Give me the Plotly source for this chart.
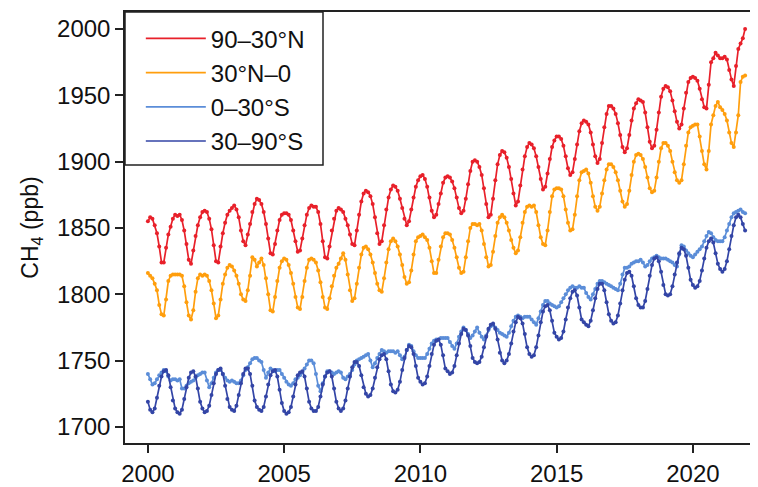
import plotly.graph_objects as go

start_year = 2000

nh_90_30 = [
    1855,1858,1857,1852,1846,1836,1824,1824,1835,1845,1851,1857,
    1860,1859,1860,1856,1848,1838,1826,1823,1833,1844,1852,1858,
    1862,1863,1862,1857,1849,1837,1825,1824,1836,1846,1854,1860,
    1863,1865,1867,1864,1858,1848,1840,1837,1845,1853,1862,1868,
    1872,1871,1868,1862,1853,1842,1831,1830,1838,1848,1856,1860,
    1861,1861,1860,1856,1848,1840,1832,1833,1842,1852,1860,1865,
    1867,1866,1866,1862,1853,1840,1828,1827,1836,1848,1857,1863,
    1865,1864,1862,1857,1852,1845,1838,1837,1848,1860,1870,1876,
    1878,1877,1874,1868,1858,1846,1838,1840,1852,1864,1873,1879,
    1882,1881,1878,1872,1865,1857,1852,1855,1864,1873,1881,1886,
    1889,1890,1887,1881,1873,1863,1858,1860,1868,1876,1884,1888,
    1889,1888,1885,1880,1873,1865,1861,1863,1872,1883,1893,1900,
    1901,1900,1896,1890,1880,1868,1858,1860,1872,1886,1898,1905,
    1908,1907,1903,1896,1887,1876,1867,1870,1882,1894,1904,1911,
    1914,1913,1910,1904,1896,1887,1879,1881,1891,1902,1911,1916,
    1919,1919,1917,1912,1904,1895,1890,1892,1902,1913,1923,1929,
    1931,1930,1928,1922,1913,1904,1899,1902,1914,1926,1936,1942,
    1942,1940,1936,1929,1920,1911,1907,1910,1920,1931,1940,1944,
    1947,1946,1945,1937,1926,1915,1910,1912,1924,1937,1949,1955,
    1957,1956,1953,1946,1938,1930,1925,1928,1940,1952,1960,1963,
    1964,1963,1961,1955,1947,1941,1940,1958,1975,1978,1982,1980,
    1978,1978,1979,1977,1969,1962,1957,1972,1985,1989,1993,2000,
]

nh_30_0 = [
    1816,1814,1812,1808,1803,1792,1785,1784,1796,1810,1814,1815,
    1815,1815,1815,1814,1806,1794,1784,1781,1788,1802,1812,1815,
    1814,1815,1814,1810,1803,1793,1782,1784,1796,1808,1815,1820,
    1822,1821,1818,1814,1808,1800,1796,1795,1803,1814,1828,1826,
    1821,1824,1827,1822,1812,1800,1788,1787,1798,1810,1820,1825,
    1827,1826,1822,1816,1808,1798,1790,1789,1798,1810,1820,1826,
    1827,1826,1824,1818,1809,1798,1790,1789,1797,1806,1814,1820,
    1823,1827,1831,1826,1815,1803,1795,1797,1808,1820,1830,1835,
    1836,1834,1830,1824,1816,1808,1803,1802,1812,1824,1834,1840,
    1842,1840,1836,1830,1822,1813,1808,1809,1818,1830,1840,1843,
    1844,1845,1843,1841,1835,1825,1816,1816,1826,1836,1843,1846,
    1846,1845,1841,1835,1828,1820,1816,1817,1828,1840,1850,1853,
    1853,1852,1853,1848,1838,1828,1821,1822,1832,1844,1854,1858,
    1860,1858,1854,1848,1841,1835,1831,1833,1843,1854,1862,1866,
    1867,1866,1867,1862,1852,1843,1838,1837,1848,1862,1874,1879,
    1880,1880,1879,1874,1864,1854,1848,1849,1860,1874,1886,1892,
    1893,1894,1891,1884,1874,1866,1863,1866,1876,1886,1894,1898,
    1898,1896,1892,1886,1878,1870,1866,1868,1878,1890,1900,1905,
    1906,1905,1902,1896,1888,1880,1877,1878,1888,1900,1910,1914,
    1914,1912,1908,1900,1892,1886,1884,1886,1898,1912,1922,1926,
    1927,1928,1928,1919,1908,1898,1894,1908,1928,1935,1942,1945,
    1941,1939,1936,1931,1922,1914,1911,1922,1935,1960,1964,1965,
]

sh_0_30 = [
    1740,1736,1732,1733,1736,1739,1741,1743,1742,1738,1735,1736,
    1736,1735,1736,1729,1729,1731,1733,1734,1735,1737,1739,1740,
    1741,1741,1735,1730,1733,1737,1741,1743,1743,1740,1737,1735,
    1734,1735,1734,1733,1733,1735,1739,1743,1745,1748,1751,1752,
    1752,1750,1749,1743,1737,1741,1744,1743,1742,1743,1743,1740,
    1737,1734,1732,1731,1733,1736,1737,1739,1741,1744,1747,1750,
    1750,1748,1740,1731,1727,1733,1738,1742,1742,1741,1740,1741,
    1742,1741,1737,1736,1738,1740,1743,1747,1750,1751,1752,1753,
    1754,1755,1750,1745,1748,1752,1755,1758,1757,1756,1757,1757,
    1757,1756,1757,1754,1751,1753,1758,1762,1761,1757,1754,1752,
    1752,1752,1752,1755,1759,1763,1765,1766,1766,1767,1767,1767,
    1767,1764,1761,1759,1763,1768,1772,1775,1773,1770,1767,1769,
    1772,1775,1771,1768,1766,1769,1773,1776,1777,1775,1773,1771,
    1770,1769,1768,1771,1776,1780,1783,1784,1783,1782,1783,1783,
    1783,1781,1779,1777,1782,1787,1792,1795,1795,1793,1792,1791,
    1790,1791,1794,1797,1800,1803,1805,1806,1805,1805,1806,1805,
    1805,1801,1798,1796,1800,1804,1808,1810,1810,1809,1808,1807,
    1806,1805,1804,1803,1808,1815,1820,1820,1821,1823,1824,1825,
    1825,1826,1824,1821,1822,1825,1827,1828,1829,1828,1827,1827,
    1827,1826,1825,1824,1822,1821,1830,1837,1836,1833,1831,1829,
    1828,1830,1832,1834,1836,1840,1844,1847,1846,1843,1841,1840,
    1840,1840,1843,1848,1853,1858,1861,1862,1863,1864,1862,1861,
]

sh_30_90 = [
    1719,1713,1711,1714,1722,1731,1738,1742,1743,1739,1730,1720,
    1714,1711,1710,1713,1721,1730,1737,1741,1742,1738,1729,1719,
    1714,1711,1712,1716,1724,1733,1740,1743,1744,1740,1731,1721,
    1715,1713,1712,1716,1724,1733,1740,1744,1744,1740,1731,1720,
    1715,1713,1712,1715,1723,1732,1739,1742,1743,1738,1728,1718,
    1712,1710,1711,1715,1723,1732,1739,1741,1742,1738,1729,1719,
    1714,1712,1712,1715,1723,1732,1738,1741,1742,1738,1729,1719,
    1714,1712,1714,1720,1729,1738,1745,1749,1749,1746,1739,1730,
    1725,1723,1724,1729,1737,1745,1751,1754,1755,1751,1742,1732,
    1727,1726,1728,1734,1743,1752,1758,1761,1760,1755,1746,1737,
    1734,1732,1733,1738,1746,1755,1762,1765,1766,1762,1754,1744,
    1742,1740,1741,1746,1754,1763,1770,1774,1773,1769,1761,1752,
    1749,1748,1749,1753,1760,1768,1774,1777,1778,1774,1766,1756,
    1750,1748,1750,1755,1763,1772,1779,1783,1782,1778,1770,1760,
    1755,1753,1754,1760,1769,1779,1787,1791,1792,1788,1780,1771,
    1768,1766,1767,1772,1781,1790,1797,1802,1803,1799,1790,1781,
    1779,1777,1776,1780,1788,1797,1804,1808,1808,1803,1794,1785,
    1780,1778,1779,1784,1793,1803,1811,1816,1817,1814,1806,1797,
    1792,1790,1790,1795,1804,1814,1822,1827,1828,1825,1817,1807,
    1800,1799,1800,1806,1815,1824,1831,1835,1834,1829,1820,1811,
    1807,1805,1806,1810,1818,1827,1835,1840,1842,1839,1831,1823,
    1819,1817,1819,1825,1834,1844,1852,1858,1860,1858,1853,1848,
]

series_names = ["90–30°N", "30°N–0", "0–30°S", "30–90°S"]
series_values = [nh_90_30, nh_30_0, sh_0_30, sh_30_90]
colors = ["#E8202A", "#FF9E0D", "#5B8DD8", "#3345A6"]

x_tick_vals = [2000, 2005, 2010, 2015, 2020]
y_tick_vals = [1700, 1750, 1800, 1850, 1900, 1950, 2000]

fig = go.Figure()
for name, vals, col in zip(series_names, series_values, colors):
    xs = [start_year + i / 12 for i in range(len(vals))]
    fig.add_trace(go.Scatter(
        x=xs, y=vals, mode="lines+markers", name=name, showlegend=False,
        line=dict(color=col, width=1.7),
        marker=dict(color=col, size=4),
    ))
for name, col in zip(series_names, colors):
    fig.add_trace(go.Scatter(
        x=[None], y=[None], mode="lines", name=name,
        line=dict(color=col, width=1.7),
    ))

font_family = "Liberation Sans, Arial, Helvetica, sans-serif"

# legend frame (page has an 8px body margin, so the figure is 750x479)
fig.add_shape(type="rect", xref="paper", yref="paper",
              x0=0, x1=0.3128, y0=0.645, y1=1.0,
              line=dict(color="#222222", width=1.5), fillcolor="white", layer="above")

fig.update_layout(
    width=750, height=479,
    margin=dict(l=117, r=0, t=4, b=44),
    paper_bgcolor="white", plot_bgcolor="white",
    font=dict(family=font_family, size=24, color="#111111"),
    legend=dict(
        x=0.025, y=0.99, xanchor="left", yanchor="top",
        bgcolor="rgba(0,0,0,0)", borderwidth=0,
        font=dict(size=24), itemwidth=60, tracegroupgap=0,
    ),
    xaxis=dict(
        range=[1999.16, 2022.39], tickvals=x_tick_vals,
        ticktext=[str(v) for v in x_tick_vals],
        showgrid=False, zeroline=False,
        showline=True, linecolor="#222222", linewidth=1.5, mirror=True,
        ticks="outside", ticklen=8, tickwidth=1.5, tickcolor="#222222",
        tickfont=dict(size=24),
    ),
    yaxis=dict(
        range=[1687.9, 2012.8], tickvals=y_tick_vals,
        showgrid=False, zeroline=False,
        showline=True, linecolor="#222222", linewidth=1.5, mirror=False,
        ticks="outside", ticklen=8, tickwidth=1.5, tickcolor="#222222",
        tickfont=dict(size=24),
        title=dict(text="CH<sub>4</sub> (ppb)", font=dict(size=23), standoff=12),
    ),
)

fig.write_html("out.html")
